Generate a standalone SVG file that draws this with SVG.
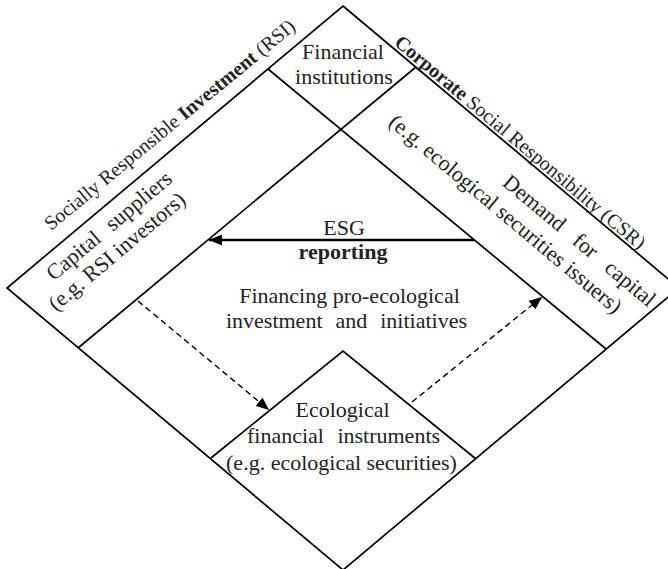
<svg xmlns="http://www.w3.org/2000/svg" width="668" height="569" viewBox="0 0 668 569">
<defs>
<style>
.t{font-family:"Liberation Serif","Times New Roman",serif;font-size:22px;fill:#222}
.e{font-size:20px}
.b{font-weight:bold}
.ln{fill:none;stroke:#000;stroke-width:1.7}
.solid{fill:none;stroke:#000;stroke-width:2.5}
.dash{fill:none;stroke:#000;stroke-width:1.4;stroke-dasharray:6 4}
</style>
<marker id="ah" markerUnits="userSpaceOnUse" markerWidth="13" markerHeight="11" viewBox="0 0 13 11" refX="13" refY="5.5" orient="auto"><path d="M0,0 L13,5.5 L0,11 z" fill="#000"/></marker>
</defs>
<rect width="668" height="569" fill="#fff"/>
<g id="frame">
<polygon class="ln" points="343,6 679,288 343,570 7,288"/>
<line class="ln" x1="268" y1="69" x2="606" y2="349"/>
<line class="ln" x1="416" y1="67" x2="78" y2="348"/>
<polyline class="ln" points="211,458 343,351 476,459"/>
</g>
<g id="rsi-label">
<text class="t e" transform="translate(51,231) rotate(-39.5)">Socially Responsible <tspan class="b">Investment</tspan> (RSI)</text>
</g>
<g id="csr-label">
<text class="t e" transform="translate(393.2,44.2) rotate(40)"><tspan class="b">Corporate</tspan> Social Responsibility (CSR)</text>
</g>
<g id="financial-institutions">
<text class="t" x="343" y="59" text-anchor="middle">Financial</text>
<text class="t" x="344" y="84" text-anchor="middle">institutions</text>
</g>
<g id="capital-suppliers">
<text class="t" transform="translate(53.7,281.5) rotate(-40)" word-spacing="8">Capital suppliers</text>
<text class="t" transform="translate(56,312) rotate(-40)">(e.g. RSI investors)</text>
</g>
<g id="demand-for-capital">
<text class="t" transform="translate(501.3,184.5) rotate(40)" word-spacing="11">Demand for capital</text>
<text class="t" transform="translate(387.4,124.2) rotate(40)">(e.g. ecological securities issuers)</text>
</g>
<g id="financing">
<text class="t" x="349.5" y="303" text-anchor="middle">Financing pro-ecological</text>
<text class="t" x="346.5" y="328" text-anchor="middle" word-spacing="7.5">investment and initiatives</text>
</g>
<g id="ecological-instruments">
<text class="t" x="342.5" y="417" text-anchor="middle">Ecological</text>
<text class="t" x="343.5" y="443" text-anchor="middle" word-spacing="8">financial instruments</text>
<text class="t" x="341.5" y="470" text-anchor="middle">(e.g. ecological securities)</text>
</g>
<g id="connectors">
<line class="solid" x1="474" y1="240" x2="209" y2="240" marker-end="url(#ah)"/>
<text class="t" x="344" y="235" text-anchor="middle">ESG</text>
<text class="t b" x="343" y="259" text-anchor="middle">reporting</text>
<line class="dash" x1="138" y1="301" x2="269" y2="410" marker-end="url(#ah)"/>
<line class="dash" x1="412" y1="402" x2="542" y2="297" marker-end="url(#ah)"/>
</g>
</svg>
